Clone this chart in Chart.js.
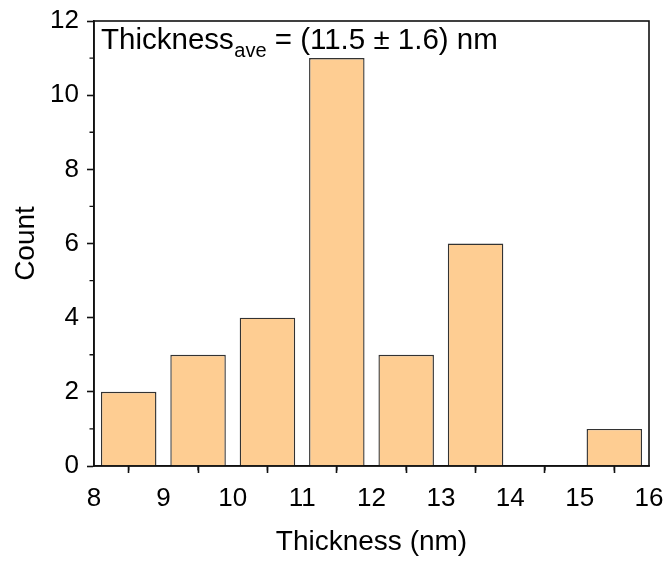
<!DOCTYPE html>
<html>
<head>
<meta charset="utf-8">
<script src="https://cdn.jsdelivr.net/npm/chart.js@4/dist/chart.umd.min.js"></script>
<style>
  html, body { margin: 0; padding: 0; background: #fff; }
  #wrap { width: 668px; height: 562px; }
</style>
</head>
<body>
<div id="wrap"><canvas id="c" width="668" height="562"></canvas></div>
<script>
// Histogram of thickness: bin centres (nm) and counts per 1 nm bin
const binCenters = [8.5, 9.5, 10.5, 11.5, 12.5, 13.5, 14.5, 15.5];
const counts = [2, 3, 4, 11, 3, 6, 0, 1];
const xTickValues = [8, 9, 10, 11, 12, 13, 14, 15, 16];
const yTickValues = [0, 2, 4, 6, 8, 10, 12];
const xTitle = 'Thickness (nm)';
const yTitle = 'Count';
const noteMain = 'Thickness';
const noteSub = 'ave';
const noteRest = ' = (11.5 \u00B1 1.6) nm';

const FONT = "'Liberation Sans', Arial, Helvetica, sans-serif";
const AXIS = '#111';

// box frame, minor ticks and the average-thickness note
const framePlugin = {
  id: 'frame',
  afterDraw(chart) {
    const { ctx, chartArea: a, scales: { x, y } } = chart;
    ctx.save();
    ctx.strokeStyle = AXIS;
    ctx.lineWidth = 1.6;
    ctx.strokeRect(a.left, a.top, a.right - a.left, a.bottom - a.top);

    // minor ticks halfway between the major ones
    ctx.lineWidth = 1.4;
    ctx.beginPath();
    for (let i = 0; i < xTickValues.length - 1; i++) {
      const px = x.getPixelForValue((xTickValues[i] + xTickValues[i + 1]) / 2);
      ctx.moveTo(px, a.bottom);
      ctx.lineTo(px, a.bottom + 4.5);
    }
    for (let i = 0; i < yTickValues.length - 1; i++) {
      const py = y.getPixelForValue((yTickValues[i] + yTickValues[i + 1]) / 2);
      ctx.moveTo(a.left, py);
      ctx.lineTo(a.left - 4.5, py);
    }
    ctx.stroke();

    // note with subscript
    ctx.fillStyle = '#000';
    ctx.textBaseline = 'alphabetic';
    ctx.textAlign = 'left';
    let tx = a.left + 7;
    const base = a.top + 27.7;
    ctx.font = '29.5px ' + FONT;
    ctx.fillText(noteMain, tx, base);
    tx += ctx.measureText(noteMain).width;
    ctx.font = '20px ' + FONT;
    ctx.fillText(noteSub, tx + 0.5, base + 8.3);
    tx += ctx.measureText(noteSub).width + 0.5;
    ctx.font = '29.5px ' + FONT;
    ctx.fillText(noteRest, tx, base);
    ctx.restore();
  }
};

new Chart(document.getElementById('c'), {
  type: 'bar',
  data: {
    datasets: [{
      data: binCenters.map((c, i) => ({ x: c, y: counts[i] })),
      backgroundColor: '#FECD92',
      borderColor: '#333333',
      borderWidth: 1.4,
      barPercentage: 0.8,
      categoryPercentage: 1.0
    }]
  },
  options: {
    responsive: false,
    animation: false,
    layout: { padding: { top: 21, right: 19, left: 0, bottom: 0 } },
    plugins: { legend: { display: false }, tooltip: { enabled: false } },
    scales: {
      x: {
        type: 'linear',
        offset: false,
        min: xTickValues[0],
        max: xTickValues[xTickValues.length - 1],
        afterBuildTicks: s => { s.ticks = xTickValues.map(v => ({ value: v })); },
        afterFit: s => {
          s.height = 96;
          s.paddingLeft = 0; s.paddingRight = 0;
          s.paddingTop = 0; s.paddingBottom = 0;
        },
        ticks: {
          autoSkip: false,
          maxRotation: 0,
          color: '#000',
          padding: 10,
          font: { family: FONT, size: 26 }
        },
        grid: {
          drawOnChartArea: false,
          drawTicks: true,
          tickLength: 7,
          tickWidth: 1.6,
          tickColor: AXIS
        },
        border: { display: true, color: AXIS, width: 1.6 },
        title: {
          display: true,
          text: xTitle,
          color: '#000',
          font: { family: FONT, size: 28 },
          padding: { top: 0, bottom: 3 }
        }
      },
      y: {
        min: yTickValues[0],
        max: yTickValues[yTickValues.length - 1],
        afterBuildTicks: s => { s.ticks = yTickValues.map(v => ({ value: v })); },
        afterFit: s => {
          s.width = 94;
          s.paddingLeft = 0; s.paddingRight = 0;
          s.paddingTop = 0; s.paddingBottom = 0;
        },
        ticks: {
          autoSkip: false,
          color: '#000',
          padding: 8,
          font: { family: FONT, size: 26 }
        },
        grid: {
          drawOnChartArea: false,
          drawTicks: true,
          tickLength: 7,
          tickWidth: 1.6,
          tickColor: AXIS
        },
        border: { display: true, color: AXIS, width: 1.6 },
        title: {
          display: true,
          text: yTitle,
          color: '#000',
          font: { family: FONT, size: 28 },
          padding: { top: 9, bottom: 0 }
        }
      }
    }
  },
  plugins: [framePlugin]
});
</script>
</body>
</html>
